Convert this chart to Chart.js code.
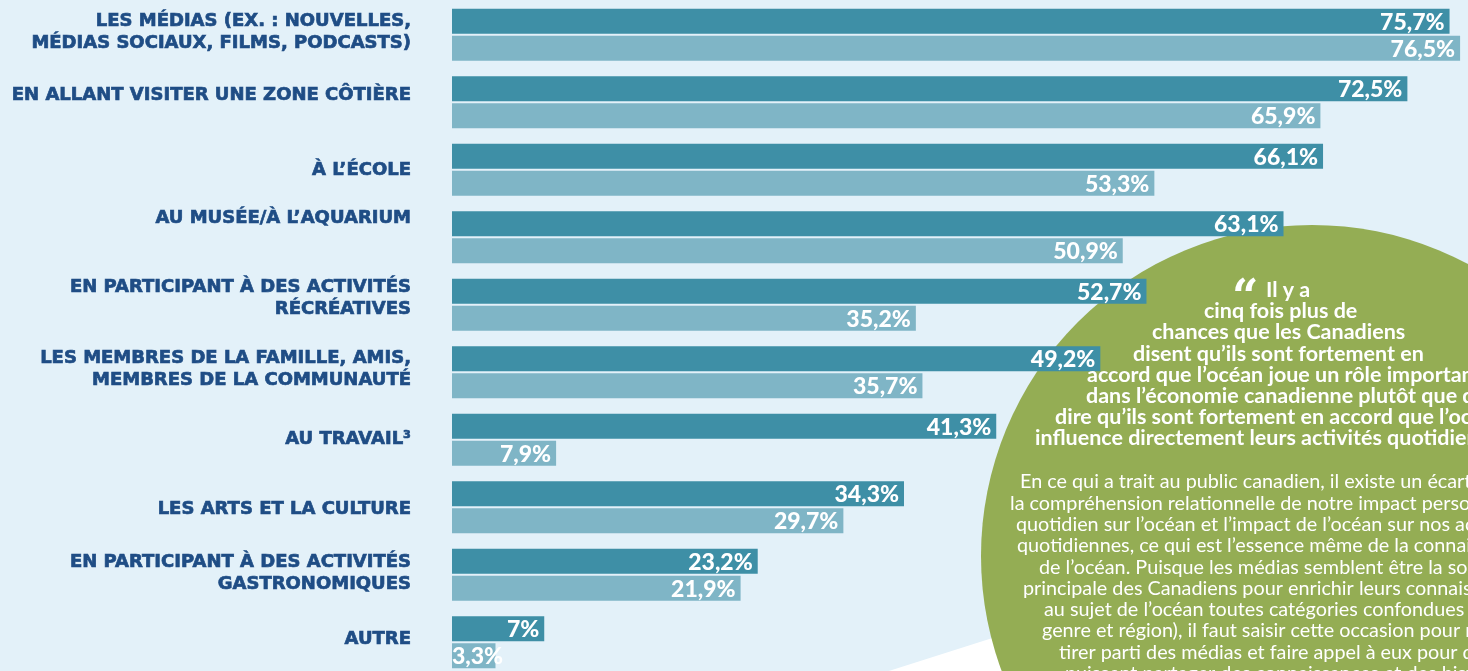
<!DOCTYPE html>
<html>
<head>
<meta charset="utf-8">
<script src="https://cdn.jsdelivr.net/npm/chart.js@4.4.1/dist/chart.umd.min.js"></script>
<style>
  html, body { margin: 0; padding: 0; background: #e3f1f9; overflow: hidden; }
  #wrap { position: relative; width: 1468px; height: 677px; }
</style>
</head>
<body>
<div id="wrap"><canvas id="sources"></canvas></div>
<script>
const categories = [
  ['LES MÉDIAS (EX. : NOUVELLES,', 'MÉDIAS SOCIAUX, FILMS, PODCASTS)'],
  'EN ALLANT VISITER UNE ZONE CÔTIÈRE',
  'À L’ÉCOLE',
  'AU MUSÉE/À L’AQUARIUM',
  ['EN PARTICIPANT À DES ACTIVITÉS', 'RÉCRÉATIVES'],
  ['LES MEMBRES DE LA FAMILLE, AMIS,', 'MEMBRES DE LA COMMUNAUTÉ'],
  'AU TRAVAIL³',
  'LES ARTS ET LA CULTURE',
  ['EN PARTICIPANT À DES ACTIVITÉS', 'GASTRONOMIQUES'],
  'AUTRE'
];
const darkValues  = [75.7, 72.5, 66.1, 63.1, 52.7, 49.2, 41.3, 34.3, 23.2, 7];
const lightValues = [76.5, 65.9, 53.3, 50.9, 35.2, 35.7, 7.9, 29.7, 21.9, 3.3];

const quoteLines = [
  'Il y a',
  'cinq fois plus de',
  'chances que les Canadiens',
  'disent qu’ils sont fortement en',
  'accord que l’océan joue un rôle important',
  'dans l’économie canadienne plutôt que de',
  'dire qu’ils sont fortement en accord que l’océan',
  'influence directement leurs activités quotidiennes.'
];
const bodyLines = [
  'En ce qui a trait au public canadien, il existe un écart dans',
  'la compréhension relationnelle de notre impact personnel',
  'quotidien sur l’océan et l’impact de l’océan sur nos activités',
  'quotidiennes, ce qui est l’essence même de la connaissance',
  'de l’océan. Puisque les médias semblent être la source',
  'principale des Canadiens pour enrichir leurs connaissances',
  'au sujet de l’océan toutes catégories confondues (âge,',
  'genre et région), il faut saisir cette occasion pour mieux',
  'tirer parti des médias et faire appel à eux pour qu’ils',
  'puissent partager des connaissances et des histoires'
];

let dark = '#3e8fa6';
let light = '#7fb5c6';
let navy = '#1f4d85';
let green = '#94ad54';

// the designer did not centre every label on its pair of bars
const labelNudge = [-2.5, -6.5, 1, -18.5, -6.5, -3.3, 0, 2.3, -1, -2.5];

// circle + white wedge behind the bars
const backdrop = {
  id: 'backdrop',
  beforeDatasetsDraw(chart) {
    const ctx = chart.ctx;
    ctx.save();
    ctx.fillStyle = '#ffffff';
    ctx.beginPath();
    ctx.moveTo(870, 677);
    ctx.lineTo(1005, 634);
    ctx.lineTo(1468, 480);
    ctx.lineTo(1468, 677);
    ctx.closePath();
    ctx.fill();

    ctx.fillStyle = green;
    ctx.beginPath();
    ctx.arc(1312, 556, 331, 0, Math.PI * 2);
    ctx.fill();
    ctx.restore();
  }
};

// category names, right aligned left of the bars
const categoryLabels = {
  id: 'categoryLabels',
  afterDraw(chart) {
    const ctx = chart.ctx;
    const yScale = chart.scales.y;
    ctx.save();
    ctx.font = 'bold 18px "DejaVu Sans"';
    ctx.fillStyle = navy;
    ctx.strokeStyle = navy;
    ctx.lineWidth = 0.7;
    ctx.textAlign = 'right';
    ctx.textBaseline = 'middle';
    const x = chart.chartArea.left - 41;
    chart.data.labels.forEach((label, i) => {
      const lines = Array.isArray(label) ? label : [label];
      const cy = yScale.getPixelForValue(i) + labelNudge[i];
      lines.forEach((line, j) => {
        const y = cy + (j - (lines.length - 1) / 2) * 22;
        ctx.fillText(line, x, y);
        ctx.strokeText(line, x, y);
      });
    });
    ctx.restore();
  }
};

// percentage labels at the end of each bar
const valueLabels = {
  id: 'valueLabels',
  afterDatasetsDraw(chart) {
    const ctx = chart.ctx;
    ctx.save();
    ctx.font = '900 23px Lato';
    ctx.fillStyle = '#ffffff';
    ctx.textAlign = 'right';
    ctx.textBaseline = 'middle';
    chart.data.datasets.forEach((ds, di) => {
      const meta = chart.getDatasetMeta(di);
      meta.data.forEach((bar, i) => {
        const txt = String(ds.data[i]).replace('.', ',') + '%';
        const w = ctx.measureText(txt).width;
        const x = Math.max(bar.x - 5, bar.base + w);
        ctx.fillText(txt, x, bar.y + 1);
      });
    });
    ctx.restore();
  }
};

// quote text inside the green circle
const circleText = {
  id: 'circleText',
  afterDraw(chart) {
    const ctx = chart.ctx;
    ctx.save();
    ctx.fillStyle = '#ffffff';
    ctx.textBaseline = 'middle';
    ctx.textAlign = 'left';

    const quoteX = [1266, 1204, 1152, 1133, 1087, 1086, 1055, 1035];
    ctx.font = 'bold 21.5px Lato';
    quoteLines.forEach((line, i) => {
      ctx.fillText(line, quoteX[i], 290 + i * 21.2);
    });
    ctx.font = 'bold 46px "DejaVu Serif"';
    ctx.fillText('“', 1232, 300);

    const bodyX = [1020, 1010, 1016, 1017, 1039, 1023, 1044, 1042, 1059, 1065];
    ctx.font = '19.8px Lato';
    bodyLines.forEach((line, i) => {
      ctx.fillText(line, bodyX[i], 482 + i * 21.3);
    });
    ctx.restore();
  }
};

const ctx = document.getElementById('sources');
const sourceChart = new Chart(ctx, {
  type: 'bar',
  data: {
    labels: categories,
    datasets: [
      { data: darkValues, backgroundColor: dark },
      { data: lightValues, backgroundColor: light }
    ]
  },
  options: {
    indexAxis: 'y',
    responsive: true,
    maintainAspectRatio: false,
    animation: false,
    categoryPercentage: 0.8,
    barPercentage: 0.926,
    layout: { padding: { top: 1, bottom: 1, left: 0, right: 0 } },
    scales: {
      x: {
        display: false,
        min: 0,
        max: 77.1
      },
      y: {
        afterFit(scale) {
          scale.width = 452;
          scale.paddingTop = 0;
          scale.paddingBottom = 0;
        },
        grid: { display: false, drawTicks: false },
        border: { display: false },
        ticks: { display: false }
      }
    },
    plugins: {
      legend: { display: false },
      tooltip: { enabled: false }
    }
  },
  plugins: [backdrop, valueLabels, categoryLabels, circleText]
});
</script>
</body>
</html>
